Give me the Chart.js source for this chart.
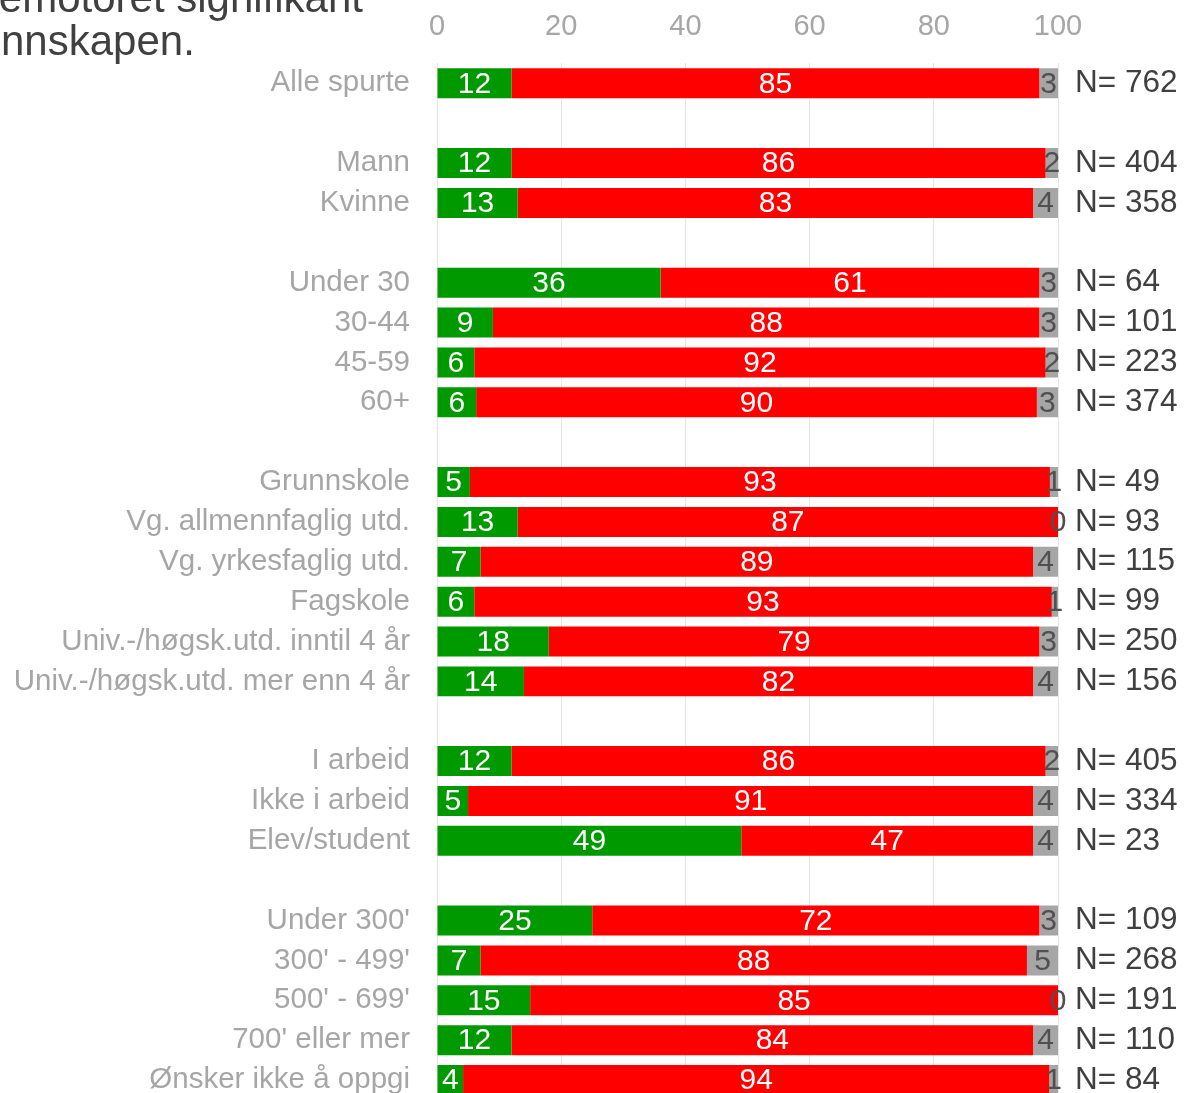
<!DOCTYPE html>
<html>
<head>
<meta charset="utf-8">
<script src="https://cdn.jsdelivr.net/npm/chart.js@4.4.1/dist/chart.umd.min.js"></script>
<style>
html,body{margin:0;padding:0;background:#fff;overflow:hidden;}
#wrap{position:relative;width:1184px;height:1110px;}
</style>
</head>
<body>
<div id="wrap"><canvas id="c" width="1184" height="1110"></canvas></div>
<script>
const categories = ['Alle spurte','', 'Mann','Kvinne','', 'Under 30','30-44','45-59','60+','',
  'Grunnskole','Vg. allmennfaglig utd.','Vg. yrkesfaglig utd.','Fagskole','Univ.-/høgsk.utd. inntil 4 år','Univ.-/høgsk.utd. mer enn 4 år','',
  'I arbeid','Ikke i arbeid','Elev/student','',
  "Under 300'","300' - 499'","500' - 699'","700' eller mer",'Ønsker ikke å oppgi'];
const greenValues = [12,null,12,13,null,36,9,6,6.3,null,5.3,13,7,6,18,14,null,12,5,49,null,25,7,15,12,4.2];
const redValues   = [85,null,86,83,null,61,88,92,90.3,null,93.4,87,89,93,79,82,null,86,91,47,null,72,88,85,84,94.4];
const grayValues  = [3,null,2,4,null,3,3,2,3.4,null,1.3,0,4,1,3,4,null,2,4,4,null,3,5,0,4,1.4];
const nCounts     = [762,null,404,358,null,64,101,223,374,null,49,93,115,99,250,156,null,405,334,23,null,109,268,191,110,84];
const xTicks = [0,20,40,60,80,100];
const titleLine1 = 'emotoret signifikant';
const titleLine2 = 'nnskapen.';

const nLabels = nCounts.map(n => n === null ? '' : 'N= ' + n);
const FONT = "'Liberation Sans', Arial, sans-serif";

const labelPlugin = {
  id: 'segLabels',
  afterDatasetsDraw(chart) {
    const ctx = chart.ctx;
    ctx.save();
    ctx.font = '30px ' + FONT;
    ctx.textAlign = 'center';
    ctx.textBaseline = 'middle';
    chart.data.datasets.forEach((ds, di) => {
      const meta = chart.getDatasetMeta(di);
      meta.data.forEach((bar, i) => {
        const v = ds.data[i];
        if (v === null || v === undefined) return;
        const x = (bar.x + bar.base) / 2;
        ctx.fillStyle = ds.labelColor;
        ctx.fillText(String(Math.round(v)), x, bar.y + 1);
      });
    });
    ctx.restore();
  }
};

const titlePlugin = {
  id: 'cutTitle',
  afterDraw(chart) {
    const ctx = chart.ctx;
    ctx.save();
    ctx.font = '42px ' + FONT;
    ctx.fillStyle = '#404040';
    ctx.textBaseline = 'alphabetic';
    ctx.textAlign = 'right';
    ctx.fillText(titleLine1, 363, 12);
    ctx.textAlign = 'left';
    ctx.fillText(titleLine2, 1, 55);
    ctx.restore();
  }
};

function noPad(s) { s.paddingTop = 0; s.paddingBottom = 0; }

new Chart(document.getElementById('c'), {
  type: 'bar',
  data: {
    labels: categories,
    datasets: [
      {data: greenValues, backgroundColor: '#009900', labelColor: '#ffffff'},
      {data: redValues, backgroundColor: '#ff0000', labelColor: '#ffffff'},
      {data: grayValues, backgroundColor: '#a6a6a6', labelColor: '#505050'}
    ]
  },
  options: {
    indexAxis: 'y',
    responsive: false,
    animation: false,
    devicePixelRatio: 1,
    layout: {padding: {top: 0, bottom: 10, left: 0, right: 0}},
    datasets: {bar: {barPercentage: 0.752, categoryPercentage: 1, borderWidth: 0}},
    plugins: {legend: {display: false}, tooltip: {enabled: false}, title: {display: false}},
    scales: {
      x: {
        position: 'top', stacked: true, min: 0, max: 100,
        afterBuildTicks(s) { s.ticks = xTicks.map(v => ({value: v})); },
        afterFit(s) { s.height = 63.4; },
        grid: {color: '#e6e6e6', lineWidth: 1, drawTicks: false},
        border: {display: false},
        ticks: {color: '#a6a6a6', font: {size: 29, family: FONT}, padding: 19, maxRotation: 0}
      },
      y: {
        stacked: true, offset: true,
        afterFit(s) { s.width = 437; noPad(s); },
        grid: {display: false, drawTicks: false},
        border: {display: false},
        ticks: {color: '#a6a6a6', font: {size: 29.5, family: FONT}, padding: 27, autoSkip: false}
      },
      y2: {
        type: 'category', position: 'right', labels: nLabels, offset: true,
        afterFit(s) { s.width = 126; noPad(s); },
        grid: {display: false, drawTicks: false},
        border: {display: false},
        ticks: {color: '#404040', font: {size: 31.5, family: FONT}, padding: 17, autoSkip: false, crossAlign: 'near'}
      }
    }
  },
  plugins: [labelPlugin, titlePlugin]
});
</script>
</body>
</html>
